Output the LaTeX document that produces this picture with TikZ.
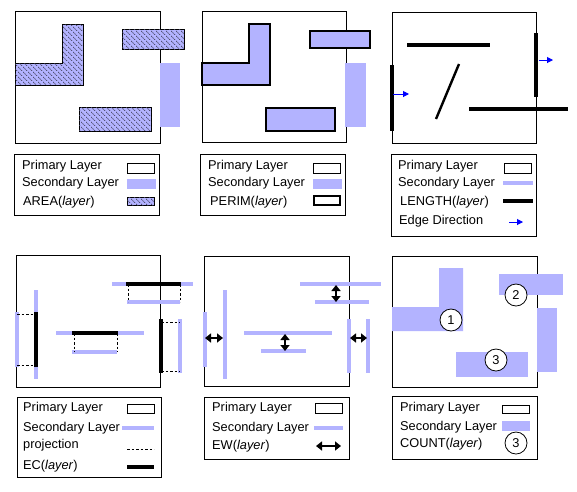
\documentclass[tikz,border=0pt]{standalone}
\usepackage{fontspec}
\setmainfont{Liberation Sans}
\usetikzlibrary{arrows.meta, patterns.meta}
\definecolor{SecBlue}{HTML}{B3B3FF}
\tikzdeclarepattern{
  name=widehatch,
  type=uncolored,
  bounding box={(0,0) and (4.5pt,4.5pt)},
  tile size={(4.5pt,4.5pt)},
  code={\draw[line width=0.7pt, dash pattern=on 1.6pt off 0.8pt] (0,4.5pt) -- (4.5pt,0);}
}

\begin{document}
\begin{tikzpicture}[x=1pt, y=-1pt,
  prim/.style={draw=black, line width=0.8pt, fill=white},
  secfill/.style={fill=SecBlue, draw=none},
  hatch/.style={draw=black, line width=0.8pt, fill=SecBlue,
                postaction={pattern=widehatch, pattern color=SecBlue!40!black}},
  perim/.style={draw=black, line width=2.6pt, fill=SecBlue},
  secline/.style={draw=SecBlue, line width=4pt},
  thickline/.style={draw=black, line width=3.5pt},
  proj/.style={draw=black, line width=1pt, dash pattern=on 2.5pt off 2pt},
  dirarr/.style={-{Triangle[length=6pt, width=6pt]}, draw=blue, line width=1pt},
  ewarr/.style={{Triangle[length=6pt, width=9pt]}-{Triangle[length=6pt, width=9pt]},
                line width=1.6pt},
  cnt/.style={circle, draw=black, line width=0.8pt, fill=white,
              minimum size=22pt, inner sep=0pt, font=\fontsize{12.8}{14}\selectfont},
  legbox/.style={draw=black, line width=0.8pt},
  txt/.style={anchor=west, inner sep=0pt, font=\fontsize{12.8}{14}\selectfont}
]
\useasboundingbox (0,0) rectangle (577,491);

% ---- AREA
\draw[prim] (15,11) rectangle (160,143);
\draw[hatch] (62,24) -- (83,24) -- (83,85) -- (15,85) -- (15,63) -- (62,63) -- cycle;
\draw[hatch] (122,29) rectangle (184,49);
\draw[hatch] (79,107) rectangle (151,131);
\fill[secfill] (160,63) rectangle (180,127);
\draw[legbox] (14,154) rectangle (159,215);
\node[txt] (a1) at (22,166) {Primary Layer};
\node[txt] (a2) at (22,183) {Secondary Layer};
\node[txt] (a3) at (23,202) {AREA(\textit{layer})};
\draw[prim] (127,163) rectangle (154,173);
\fill[secfill] (127,179) rectangle (156,189);
\draw[hatch] (127,197) rectangle (154,205);

% ---- PERIM
\draw[prim] (202,11) rectangle (346,142);
\draw[perim] (249,24) -- (270,24) -- (270,85) -- (202,85) -- (202,63) -- (249,63) -- cycle;
\draw[perim] (310,31) rectangle (370,48);
\draw[perim] (266,108) rectangle (335,131);
\fill[secfill] (345,63) rectangle (366,127);
\draw[legbox] (200,154) rectangle (345,215);
\node[txt] (p1) at (208,166) {Primary Layer};
\node[txt] (p2) at (208,183) {Secondary Layer};
\node[txt] (p3) at (210,202) {PERIM(\textit{layer})};
\draw[prim] (313,163) rectangle (340,173);
\fill[secfill] (313,179) rectangle (342,189);
\draw[draw=black, line width=2.6pt] (314,196) rectangle (340,205);

% ---- LENGTH
\draw[prim] (392,12) rectangle (536,143);
\draw[thickline] (407,45) -- (490,45);
\draw[draw=black, line width=2.4pt] (459,64) -- (436,119);
\draw[thickline] (469,109) -- (568,109);
\draw[thickline] (392,65) -- (392,131);
\draw[thickline] (536,33) -- (536,97);
\draw[dirarr] (393,94) -- (409,94);
\draw[dirarr] (539,60) -- (553,60);
\draw[legbox] (391,154) rectangle (536,236);
\node[txt] (l1) at (398,166) {Primary Layer};
\node[txt] (l2) at (398,183) {Secondary Layer};
\node[txt] (l3) at (400,202) {LENGTH(\textit{layer})};
\node[txt] (l4) at (399,221) {Edge Direction};
\draw[prim] (504,163) rectangle (531,173);
\draw[secline] (503,183) -- (533,183);
\draw[thickline] (503,201) -- (533,201);
\draw[dirarr] (509,222) -- (523,222);

% ---- EC
\draw[prim] (16,255) rectangle (160,387);
\draw[secline] (17,312) -- (17,367);
\draw[secline] (36,290) -- (36,379);
\draw[thickline] (36,312) -- (36,367);
\draw[proj] (17,314) -- (36,314);
\draw[proj] (17,365) -- (36,365);
\draw[secline] (56,333) -- (144,333);
\draw[thickline] (72,333) -- (118,333);
\draw[secline] (72,352) -- (117,352);
\draw[proj] (74,333) -- (74,352);
\draw[proj] (117,333) -- (117,352);
\draw[secline] (112,284) -- (193,284);
\draw[thickline] (126,284) -- (181,284);
\draw[secline] (127,302) -- (180,302);
\draw[proj] (128,284) -- (128,302);
\draw[proj] (180,284) -- (180,302);
\draw[secline] (180,319) -- (180,373);
\draw[thickline] (161,319) -- (161,373);
\draw[proj] (161,322) -- (180,322);
\draw[proj] (161,371) -- (180,371);
\draw[legbox] (17,397) rectangle (161,477);
\node[txt] (e1) at (23,408) {Primary Layer};
\node[txt] (e2) at (23,428) {Secondary Layer};
\node[txt] (e3) at (23,445) {projection};
\node[txt] (e4) at (23,466) {EC(\textit{layer})};
\draw[prim] (127,404) rectangle (154,413);
\draw[secline] (122,428) -- (154,428);
\draw[proj] (127,449) -- (154,449);
\draw[thickline] (127,467) -- (154,467);

% ---- EW
\draw[prim] (204,256) rectangle (349,386);
\draw[secline] (205,312) -- (205,367);
\draw[secline] (225,290) -- (225,379);
\draw[ewarr] (205,338) -- (223,338);
\draw[secline] (244,333) -- (332,333);
\draw[secline] (261,351) -- (306,351);
\draw[ewarr] (285,334) -- (285,351);
\draw[secline] (300,284) -- (381,284);
\draw[secline] (315,302) -- (369,302);
\draw[ewarr] (336,285) -- (336,302);
\draw[secline] (349,319) -- (349,373);
\draw[secline] (368,319) -- (368,373);
\draw[ewarr] (350,338) -- (367,338);
\draw[legbox] (204,397) rectangle (349,459);
\node[txt] (w1) at (212,408) {Primary Layer};
\node[txt] (w2) at (212,428) {Secondary Layer};
\node[txt] (w3) at (212,446) {EW(\textit{layer})};
\draw[prim] (315,403) rectangle (342,413);
\draw[secline] (314,428) -- (343,428);
\draw[ewarr] (316,446) -- (341,446);

% ---- COUNT
\draw[prim] (392,256) rectangle (537,387);
\fill[secfill] (439,268) -- (463,268) -- (463,331) -- (392,331) -- (392,307) -- (439,307) -- cycle;
\fill[secfill] (499,274) rectangle (563,295);
\fill[secfill] (537,308) rectangle (557,372);
\fill[secfill] (456,352) rectangle (528,377);
\node[cnt] (c1) at (451,320) {1};
\node[cnt] (c2) at (516,295) {2};
\node[cnt] (c3) at (496,360) {3};
\draw[legbox] (392,396) rectangle (537,459);
\node[txt] (n1) at (400,408) {Primary Layer};
\node[txt] (n2) at (400,427) {Secondary Layer};
\node[txt] (n3) at (400,444) {COUNT(\textit{layer})};
\draw[prim] (502,405) rectangle (529,413);
\fill[secfill] (502,421) rectangle (530,431);
\node[cnt] (c4) at (516,443) {3};
\end{tikzpicture}
\end{document}
